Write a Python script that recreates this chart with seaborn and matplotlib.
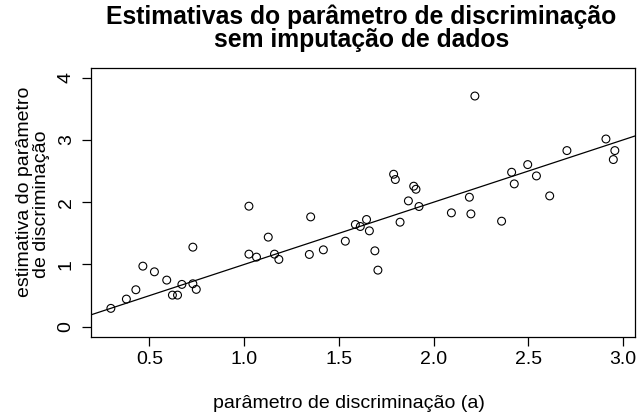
import numpy as np
import pandas as pd
import matplotlib
matplotlib.use("Agg")
import matplotlib.pyplot as plt
import seaborn as sns

# discrimination parameter (true) and its estimate without imputation
a_true = [0.296, 0.378, 0.428, 0.465, 0.526, 0.591, 0.621, 0.648, 0.671, 0.729,
          0.729, 0.747, 1.025, 1.025, 1.065, 1.127, 1.160, 1.183, 1.344, 1.351,
          1.418, 1.534, 1.587, 1.613, 1.646, 1.661, 1.690, 1.706, 1.789, 1.798,
          1.823, 1.867, 1.895, 1.907, 1.923, 2.094, 2.189, 2.197, 2.218, 2.359,
          2.412, 2.426, 2.497, 2.543, 2.613, 2.704, 2.910, 2.957, 2.949]
a_est = [0.295, 0.444, 0.594, 0.973, 0.882, 0.749, 0.508, 0.508, 0.680, 1.278,
         0.690, 0.600, 1.936, 1.166, 1.118, 1.439, 1.166, 1.081, 1.161, 1.764,
         1.235, 1.374, 1.642, 1.610, 1.722, 1.540, 1.219, 0.909, 2.449, 2.364,
         1.679, 2.021, 2.257, 2.208, 1.931, 1.829, 2.080, 1.812, 3.705, 1.695,
         2.481, 2.294, 2.604, 2.422, 2.101, 2.829, 3.015, 2.829, 2.685]

x_ticks = [0.5, 1.0, 1.5, 2.0, 2.5, 3.0]
y_ticks = [0, 1, 2, 3, 4]

title_lines = ["Estimativas do parâmetro de discriminação", "sem imputação de dados"]
x_label = "parâmetro de discriminação (a)"
y_label_lines = ["estimativa do parâmetro", "de discriminação"]

df = pd.DataFrame({"a": a_true, "est": a_est})

sns.set_style("white")
plt.rcParams["font.family"] = ["Liberation Sans", "DejaVu Sans"]
plt.rcParams["text.color"] = "black"
plt.rcParams["axes.labelcolor"] = "black"
plt.rcParams["xtick.color"] = "black"
plt.rcParams["ytick.color"] = "black"

W, H = 641, 417
fig = plt.figure(figsize=(W / 100, H / 100), dpi=100)
ax = fig.add_axes([90.7 / W, 1 - 336.7 / H, (635 - 90.7) / W, (336.7 - 67.7) / H])

sns.scatterplot(data=df, x="a", y="est", ax=ax, marker="o", s=32,
                facecolors="none", edgecolor="black", linewidth=0.8, zorder=3)
# reference line y = x
ax.axline((0, 0), slope=1, color="black", linewidth=0.9)

xr = max(a_true) - min(a_true)
ax.set_xlim(min(a_true) - 0.04 * xr, max(a_true) + 0.04 * xr)
ax.set_ylim(-0.16, 4.16)
ax.set_xticks(x_ticks)
ax.set_xticklabels([f"{v:.1f}" for v in x_ticks])
ax.set_yticks(y_ticks)
ax.set_yticklabels([str(v) for v in y_ticks], rotation=90, va="center")

for sp in ax.spines.values():
    sp.set_visible(True)
    sp.set_color("black")
    sp.set_linewidth(0.9)
ax.tick_params(axis="both", direction="out", length=6.5, width=0.9,
               labelsize=14, bottom=True, left=True)
ax.tick_params(axis="x", pad=4)
ax.tick_params(axis="y", pad=5)
ax.set_xlabel("")
ax.set_ylabel("")

fig.text(349 / W, 1 - 403 / H, x_label, ha="center", va="center", fontsize=14)

fig.text(29.5 / W, 1 - 192 / H, y_label_lines[0], ha="center", va="baseline",
         rotation=90, rotation_mode="anchor", fontsize=14)
fig.text(46 / W, 1 - 204 / H, y_label_lines[1], ha="center", va="baseline",
         rotation=90, rotation_mode="anchor", fontsize=14)

fig.text(361 / W, 1 - 24 / H, title_lines[0], ha="center", va="baseline",
         fontsize=17.8, fontweight="bold")
fig.text(362 / W, 1 - 47 / H, title_lines[1], ha="center", va="baseline",
         fontsize=17.8, fontweight="bold")

fig.savefig("out.png", dpi=100, facecolor="white")
